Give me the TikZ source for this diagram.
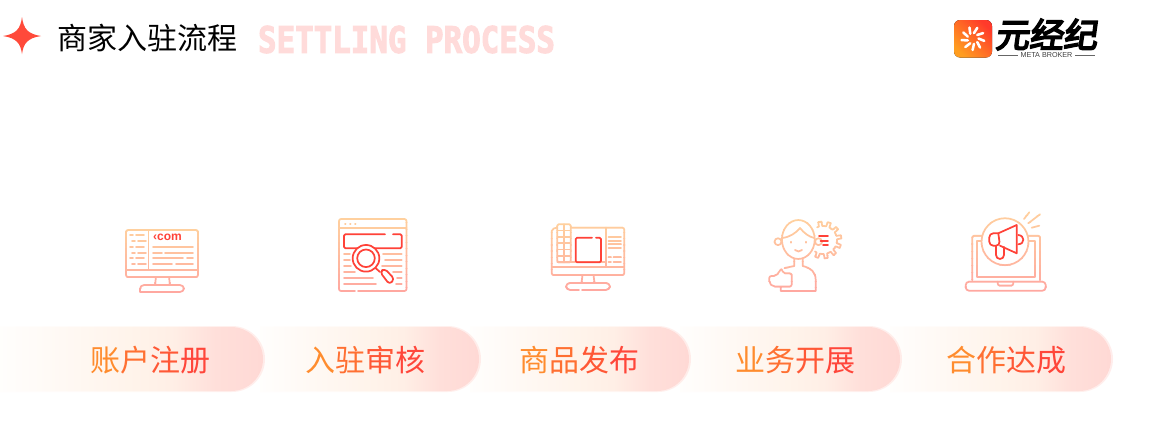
\documentclass[tikz,border=0pt]{standalone}
\usepackage{fontspec}
\usepackage{graphicx}
\setmainfont{Liberation Sans}
\newfontfamily\cjk{Noto Sans CJK SC}
\newfontfamily\logofont[FakeSlant=0.14,FakeBold=5]{Noto Sans CJK SC}
\newfontfamily\blockfont[FakeBold=3]{DejaVu Sans Mono}
\definecolor{iconT}{HTML}{FFD09E}
\definecolor{iconB}{HTML}{FFA8A0}
\definecolor{redline}{HTML}{FF4238}
\definecolor{starred}{HTML}{FF4A3A}
\definecolor{ghost}{HTML}{FFDBDA}
\definecolor{lblA}{HTML}{FF8C2E}
\definecolor{lblB}{HTML}{FF7032}
\definecolor{lblC}{HTML}{FF5836}
\definecolor{lblD}{HTML}{FF463A}
\definecolor{logoA}{HTML}{FF3A2A}
\definecolor{logoB}{HTML}{FF9D20}
\colorlet{band}{iconT}
\pgfdeclarehorizontalshading{pillshadeb}{100bp}{
  rgb(0bp)=(1,0.995,0.99);
  rgb(25bp)=(1,0.995,0.99);
  rgb(50bp)=(1,0.955,0.92);
  rgb(58bp)=(1,0.935,0.90);
  rgb(66bp)=(1,0.875,0.855);
  rgb(75bp)=(1,0.85,0.835);
  rgb(100bp)=(1,0.85,0.835)}
\tikzset{
  ln/.style={draw=band,line width=1.3pt,line cap=round,line join=round},
  rd/.style={draw=redline,line width=1.3pt,line cap=round,line join=round},
  txt/.style={inner sep=0pt,outer sep=0pt},
  lbl/.style={txt,font=\cjk\fontsize{22.5pt}{24pt}\selectfont}
}
% vertical gradient stroke: #1..#4 = x0,x1,y0,y1; #5 = strokes
\newcommand\gradbands[5]{%
  \foreach \i in {0,...,11}{%
    \begin{scope}
      \pgfmathsetmacro\ya{#3+(#4-#3)*\i/12}
      \pgfmathsetmacro\yb{#3+(#4-#3)*(\i+1)/12+0.4}
      \pgfmathsetmacro\pc{100*\i/11}
      \clip (#1,\ya) rectangle (#2,\yb);
      \colorlet{band}{iconB!\pc!iconT}
      #5
    \end{scope}}}
\newcommand\pillat[2]{%
  \shade[shading=pillshadeb,opacity=.45] (#1,326) -- (#2-33,326) arc[start angle=90,end angle=-90,radius=24.75pt] -- (#1,392) -- cycle;
  \shade[shading=pillshadeb] (#1,327) -- (#2-34,327) arc[start angle=90,end angle=-90,radius=24pt] -- (#1,391) -- cycle;}
\begin{document}
\begin{tikzpicture}[x=0.75pt,y=-0.75pt]
\useasboundingbox (0,0) rectangle (1158,425);
\fill[white] (0,0) rectangle (1158,425);

% header
\fill[starred] (22,17) .. controls (23.5,29) and (28,34) .. (41,36) .. controls (28,38) and (23.5,43) .. (22,54) .. controls (20.5,43) and (16,38) .. (3,36) .. controls (16,34) and (20.5,29) .. (22,17) -- cycle;
\node[lbl,anchor=west,text=black] (title) at (57.5,38) {商家入驻流程};
\node[txt,text=ghost] (ghosttitle) at (406.5,39.5) {\resizebox{222.75pt}{20.25pt}{\blockfont\bfseries SETTLING PROCESS}};

% logo
\fill[rounded corners=4.5pt,left color=logoA,right color=logoB,shading angle=-45] (954,20) rectangle (992,57.5);
\foreach \a in {0,40,...,320}
  \draw[white,line width=1.9pt,line cap=round] ({973+5.5*cos(\a)},{38.5+5.5*sin(\a)}) -- ({973+11.5*cos(\a+12)},{38.5+11.5*sin(\a+12)});
\node[txt,anchor=west] (logotext) at (995,34.5) {\logofont\fontsize{25.5pt}{27pt}\selectfont 元经纪};
\node[txt,text=black!75] (logosub) at (1046.5,55) {\fontsize{5.4pt}{6pt}\selectfont META BROKER};
\draw[black!60,line width=.5pt] (998,55) -- (1018,55) (1075,55) -- (1095,55);

% pills (right to left so each covers the next)
\pillat{890}{1113}
\pillat{680}{902}
\pillat{470}{691}
\pillat{260}{481}
\pillat{0}{265}

% labels
\node[lbl] (lab1) at (150,360) {\textcolor{lblA}{账}\textcolor{lblB}{户}\textcolor{lblC}{注}\textcolor{lblD}{册}};
\node[lbl] (lab2) at (365,360) {\textcolor{lblA}{入}\textcolor{lblB}{驻}\textcolor{lblC}{审}\textcolor{lblD}{核}};
\node[lbl] (lab3) at (579,360) {\textcolor{lblA}{商}\textcolor{lblB}{品}\textcolor{lblC}{发}\textcolor{lblD}{布}};
\node[lbl] (lab4) at (795,360) {\textcolor{lblA}{业}\textcolor{lblB}{务}\textcolor{lblC}{开}\textcolor{lblD}{展}};
\node[lbl] (lab5) at (1006,360) {\textcolor{lblA}{合}\textcolor{lblB}{作}\textcolor{lblC}{达}\textcolor{lblD}{成}};

% icon 1
\gradbands{120}{205}{226}{294}{
  \draw[ln,rounded corners=1.5pt] (126,230) rectangle (198,277);
  \draw[ln] (126,270) -- (198,270) (148.5,230) -- (148.5,270);
  \draw[ln] (156,277) -- (155,285) (169,277) -- (170,285);
  \draw[ln,rounded corners=3pt] (140,292) -- (140,285) -- (184,285) -- (184,292) -- (140,292);
  \foreach \y/\a in {235/130,240.7/132,247/130,252.7/132,258.3/130,264/132}
    \draw[ln] (\a,\y) -- (\a+3,\y) (\a+6,\y) -- (\a+14,\y);
  \draw[ln] (153,247.3) -- (193,247.3) (153,252.7) -- (162,252.7) (165,252.7) -- (193,252.7)
            (153,258.3) -- (183,258.3) (187,258.3) -- (193,258.3)
            (153,264.3) -- (172,264.3) (176,264.3) -- (193,264.3);
}
\node[txt,text=redline] (comtext) at (167.5,237.5) {\fontsize{9pt}{10pt}\selectfont\bfseries ‹com};

% icon 2
\gradbands{334}{412}{216}{294}{
  \draw[ln,rounded corners=1.5pt] (355,291) -- (339,291) -- (339,219) -- (406.5,219) -- (406.5,291) -- (358,291);
  \draw[ln] (339,227.7) -- (406.5,227.7);
  \foreach \x in {345,350,355} \draw[ln] (\x,223.7) -- (\x+.6,223.7);
  \foreach \y/\a/\b/\c in {254.3/344/350/383,260/344/350/385,265.7/344/351/382,271.7/344/355/393,277.7/344/373/397,284/344/376/396}
    \draw[ln] (\a,\y) -- (\b,\y) (\c,\y) -- (401.7,\y);
}
\draw[rd,rounded corners=1pt] (385,234.3) -- (344,234.3) -- (344,248.3) -- (401.7,248.3) -- (401.7,234.3) -- (393,234.3);
\fill[white] (366,258.3) circle[radius=10pt];
\draw[rd] (366,258.3) circle[radius=10pt];
\draw[rd] (366,258.3) circle[radius=6.6pt];
\draw[rd] (375.5,268) -- (380,272);
\draw[rd,fill=white,rounded corners=2.6pt] (380,272) -- (384.5,268.5) -- (394.5,279) -- (389.5,284.5) -- cycle;

% icon 3
\gradbands{546}{630}{220}{294}{
  \draw[ln,rounded corners=1.5pt] (557,227.7) -- (624.3,227.7) -- (624.3,275) -- (551.7,275) -- (551.7,229) -- (557,227.7);
  \draw[ln] (551.7,266.7) -- (624.3,266.7) (606,227.7) -- (606,266.7);
  \draw[ln,fill=white,rounded corners=1pt] (557.3,224.3) rectangle (570.7,262.3);
  \draw[ln] (564,224.3) -- (564,262.3);
  \foreach \y in {230.6,236.9,243.2,249.5,255.8} \draw[ln] (557.3,\y) -- (570.7,\y);
  \draw[ln] (557.3,262.3) -- (606,262.3);
  \draw[ln] (582.5,275) -- (581.5,283) (593.5,275) -- (594.5,283);
  \draw[ln,rounded corners=3pt] (579,290) -- (566,290) -- (566,283) -- (610,283) -- (610,290) -- (582,290);
  \foreach \y in {237.3,240.7,244,247.7} \draw[ln] (608.5,\y) -- (621,\y);
  \foreach \y in {257.3,262.3} \draw[ln] (608.5,\y) -- (611,\y) (613.5,\y) -- (621,\y);
}
\draw[rd,rounded corners=1pt] (592,237.7) -- (575.7,237.7) -- (575.7,262.3) -- (601,262.3) -- (601,237.7) -- (596,237.7);

% icon 4
\gradbands{764}{846}{216}{294}{
  \foreach \t in {-100,-70,-40,-10,20,50,80,110}
    \draw[ln] ({823+14*cos(\t-15)},{240+14*sin(\t-15)}) -- ({823+14*cos(\t-7)},{240+14*sin(\t-7)})
      -- ({823+18.5*cos(\t-5)},{240+18.5*sin(\t-5)}) -- ({823+18.5*cos(\t+5)},{240+18.5*sin(\t+5)})
      -- ({823+14*cos(\t+7)},{240+14*sin(\t+7)}) -- ({823+14*cos(\t+15)},{240+14*sin(\t+15)});
  \draw[ln,fill=white] (778,241.7) circle[radius=2.6pt];
  \draw[ln,fill=white] (818.5,241.7) circle[radius=2.6pt];
  \draw[ln,fill=white] (798.3,239.5) ellipse[x radius=12.3pt,y radius=14.6pt];
  \draw[ln] (782.3,238) .. controls (790,237) and (796,233) .. (800,228) .. controls (804,233) and (809,237) .. (814.5,238);
  \draw[ln] (790.7,241.7) -- (790.7,242.7) (806,241.7) -- (806,242.7);
  \draw[ln] (795,250) .. controls (797,252) and (800,252) .. (802,250);
  \draw[ln] (794.3,259) -- (794.3,266) -- (784.5,268) (802.7,259) -- (802.7,266)
     .. controls (811,268) and (815.7,272) .. (815.7,280) -- (815.7,291) -- (780.7,291) -- (780.7,287);
  \draw[ln,rounded corners=1.5pt] (769.3,276) -- (776,276) -- (781.7,268.3) -- (783,273.3) -- (791.7,273.3) -- (791.7,286.5) -- (773,286.5) -- (769.3,283) -- cycle;
}
\draw[rd] (819,236) -- (828,236) (820.5,240.7) -- (828,240.7) (823,245) -- (828,245);

% icon 5
\gradbands{960}{1050}{208}{294}{
  \draw[ln,rounded corners=1.5pt] (972.3,280) -- (972.3,235.7) -- (1040,235.7) -- (1040,280);
  \draw[ln] (977.3,276.7) -- (977.3,240.7) -- (1035,240.7) -- (1035,276.7) -- cycle;
  \draw[ln,rounded corners=2.5pt] (965.7,281.7) rectangle (1045.7,290.7);
  \draw[ln,rounded corners=1.5pt] (997.7,281.7) -- (997.7,285.5) -- (1013.3,285.5) -- (1013.3,281.7);
  \draw[ln,fill=white] (1005,241.7) circle[radius=17.6pt];
  \draw[ln] (1024,219) -- (1029.3,212.3) (1028.3,223.3) -- (1040,214.3) (1031.7,227.7) -- (1039.3,225.7);
}
\draw[rd] (998.3,233.3) -- (1016.7,225) -- (1016.7,253.3) -- (1000,245.7);
\draw[rd,rounded corners=3pt] (998.3,233.3) -- (989.3,233.3) -- (989.3,245.7) -- (1000,245.7) -- (998.3,233.3);
\draw[rd,rounded corners=3pt] (996,245.7) -- (996,259) -- (1004,259) -- (1004,247);
\draw[rd] (1018.3,235) .. controls (1025,235.5) and (1025,244) .. (1018.3,244.3);
\end{tikzpicture}
\end{document}
